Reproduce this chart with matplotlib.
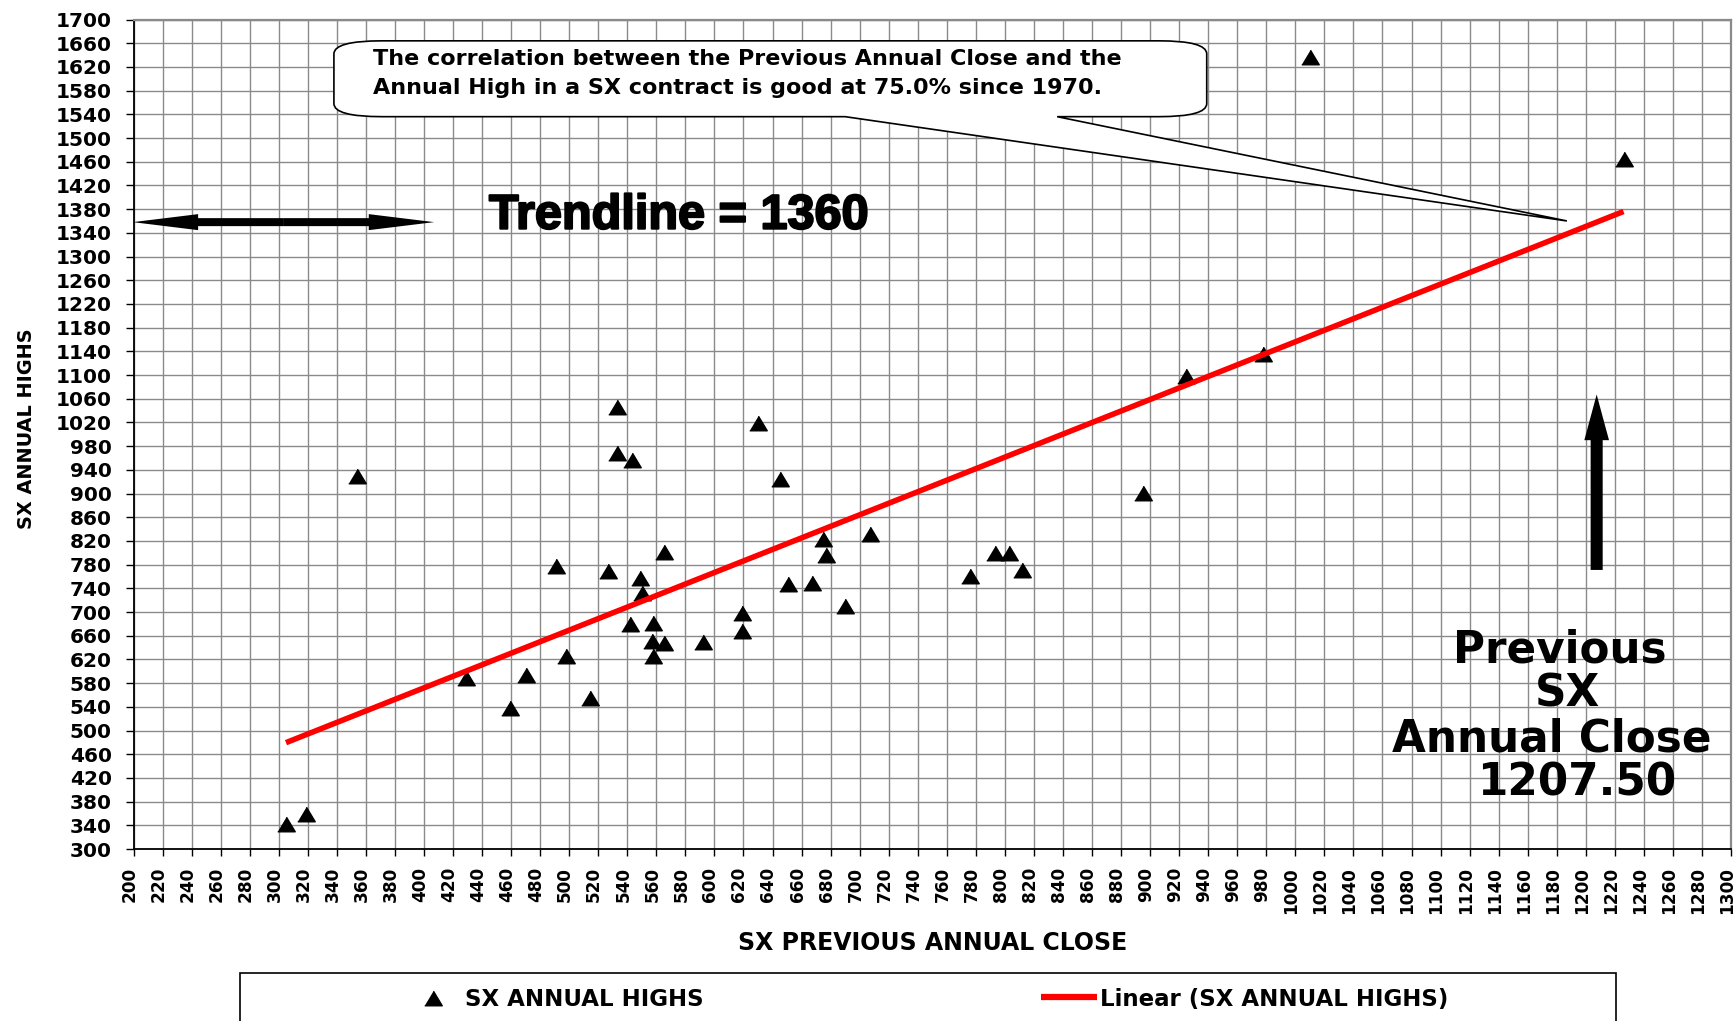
import matplotlib
matplotlib.use('Agg')
import numpy as np
import matplotlib.pyplot as plt
from matplotlib.path import Path
from matplotlib.patches import PathPatch, FancyArrow, Rectangle
from matplotlib.lines import Line2D
from matplotlib.transforms import ScaledTranslation
import matplotlib.patheffects as pe

plt.rcParams['font.family'] = ['DejaVu Sans']
plt.rcParams['font.weight'] = 'bold'

# previous annual close vs annual high (SX)
prev_close = [305, 319, 354, 429, 459, 470, 491, 498, 514, 527,
              533, 533, 543, 542, 549, 550, 558, 557, 565, 558,
              565, 592, 619, 619, 630, 645, 651, 667, 675, 677,
              690, 707, 776, 793, 803, 812, 895, 925, 978, 1010, 1226]
annual_high = [343, 359, 930, 589, 538, 594, 777, 625, 555, 770,
               1046, 968, 956, 679, 758, 732, 681, 651, 648, 625,
               802, 650, 668, 698, 1019, 924, 747, 749, 824, 797,
               710, 832, 761, 799, 799, 771, 901, 1099, 1135, 1636, 1465]

x_ticks = np.arange(200, 1301, 20)
y_ticks = np.arange(300, 1701, 40)

trend_value = 1360
last_close = 1207.50
note = ['The correlation between the Previous Annual Close and the',
        'Annual High in a SX contract is good at 75.0% since 1970.']

W, H = 1736, 1021
fig = plt.figure(figsize=(W / 100, H / 100), dpi=100)
ax = fig.add_axes([133.5 / W, 1 - 849 / H, (1731 - 133.5) / W, (849 - 19.5) / H])

tri = [(-1.2, -1), (1.2, -1), (0, 1)]
ax.plot(prev_close, annual_high, linestyle='none', marker=tri, markersize=12.6,
        color='black', zorder=2)

# linear trendline through the points
slope, icpt = np.polyfit(prev_close, annual_high, 1)
xs = np.array([min(prev_close), max(prev_close)])
ax.plot(xs, icpt + slope * xs, color='#ff0000', lw=4, zorder=3,
        solid_capstyle='butt')

ax.set_xlim(200, 1300)
ax.set_ylim(300, 1700)
ax.set_xticks(x_ticks)
ax.set_xticklabels([str(v) for v in x_ticks], rotation=90)
ax.set_yticks(y_ticks)
ax.set_yticklabels([str(v) for v in y_ticks])
ax.tick_params(axis='y', direction='out', length=6.1, width=1, pad=9.5, labelsize=14.5)
ax.tick_params(axis='x', direction='out', length=5, width=1, pad=8, labelsize=12.2)
shift = ScaledTranslation(-4 / 100, 0, fig.dpi_scale_trans)
for lab in ax.get_xticklabels():
    lab.set_transform(lab.get_transform() + shift)

ax.grid(True, color='#8a8a8a', lw=1.0)
ax.set_axisbelow(True)
for s in ['top', 'right']:
    ax.spines[s].set_color('#8a8a8a')
    ax.spines[s].set_linewidth(1.6)
for s in ['left', 'bottom']:
    ax.spines[s].set_color('black')
    ax.spines[s].set_linewidth(1.3)

ax.set_xlabel('SX PREVIOUS ANNUAL CLOSE', fontsize=17, fontweight='bold', va='baseline')
ax.xaxis.set_label_coords(0.5, (849 - 950) / 829.5)
ax.set_ylabel('SX ANNUAL HIGHS', fontsize=13.9, fontweight='bold')
ylab = ax.yaxis.label
ylab.set_rotation_mode('anchor')
ylab.set_va('baseline')
ylab.set_ha('center')
ax.yaxis.set_label_coords((32.3 - 133.5) / 1597.5, (849 - 429) / 829.5)

# callout box with pointer to the trendline
bx0, bx1, by0, by1 = 338, 939, 1536, 1664
rx, ry = 33, 22
xa, xb = 690, 836
tip = (1187, trend_value)
verts = [(bx0 + rx, by0), (xa, by0), tip, (xb, by0), (bx1 - rx, by0),
         (bx1, by0), (bx1, by0 + ry), (bx1, by1 - ry), (bx1, by1), (bx1 - rx, by1),
         (bx0 + rx, by1), (bx0, by1), (bx0, by1 - ry), (bx0, by0 + ry), (bx0, by0),
         (bx0 + rx, by0), (bx0 + rx, by0)]
codes = [Path.MOVETO, Path.LINETO, Path.LINETO, Path.LINETO, Path.LINETO,
         Path.CURVE3, Path.CURVE3, Path.LINETO, Path.CURVE3, Path.CURVE3,
         Path.LINETO, Path.CURVE3, Path.CURVE3, Path.LINETO, Path.CURVE3,
         Path.CURVE3, Path.CLOSEPOLY]
ax.add_patch(PathPatch(Path(verts, codes), facecolor='white', edgecolor='black',
                       lw=1.2, zorder=4))
ax.text(364.9, 1624, note[0], fontsize=16, ha='left', va='baseline', zorder=5)
ax.text(364.9, 1573.5, note[1], fontsize=16, ha='left', va='baseline', zorder=5)

ax.text(575.3, 1347, f'Trendline = {trend_value}', fontsize=35,
        family=['Liberation Sans'], fontweight='bold',
        ha='center', va='baseline', zorder=5,
        path_effects=[pe.withStroke(linewidth=1.5, foreground='black')])

# double arrow at trendline level
xc = 303
for dx in (199.5 - xc, 407 - xc):
    ax.add_patch(FancyArrow(xc, 1358, dx, 0, width=13.5, head_width=27, head_length=45,
                            length_includes_head=True, color='black', lw=0,
                            zorder=5, clip_on=False))

# up arrow at the previous close
ax.add_patch(FancyArrow(last_close, 771, 0, 1067 - 771, width=8.3, head_width=17,
                        head_length=77, length_includes_head=True, color='black',
                        lw=0, zorder=5))

big = dict(fontsize=31.5, fontweight='bold', ha='center', va='baseline', zorder=5)
ax.text(1181.8, 614, 'Previous', **big)
ax.text(1187.6, 540, 'SX', **big)
ax.text(1176.6, 464.8, 'Annual Close', **big)
ax.text(1193.6, 389.5, f'{last_close:.2f}', **big)

# legend drawn at the bottom
fig.add_artist(Rectangle((240 / W, -0.05), (1616 - 240) / W, 0.05 + 1 - 973 / H,
                         transform=fig.transFigure, fill=False, edgecolor='black', lw=1.2))
fig.add_artist(Line2D([433 / W], [1 - 997.5 / H], marker=tri, markersize=12.6,
                      color='black', linestyle='none', transform=fig.transFigure))
fig.text(465 / W, 1 - 1006 / H, 'SX ANNUAL HIGHS', fontsize=16.5, va='baseline')
fig.add_artist(Line2D([1041 / W, 1097 / W], [1 - 997 / H] * 2, color='#ff0000', lw=4.5,
                      solid_capstyle='butt', transform=fig.transFigure))
fig.text(1100 / W, 1 - 1006 / H, 'Linear (SX ANNUAL HIGHS)', fontsize=16.5, va='baseline')

fig.savefig('out.png', dpi=100)
